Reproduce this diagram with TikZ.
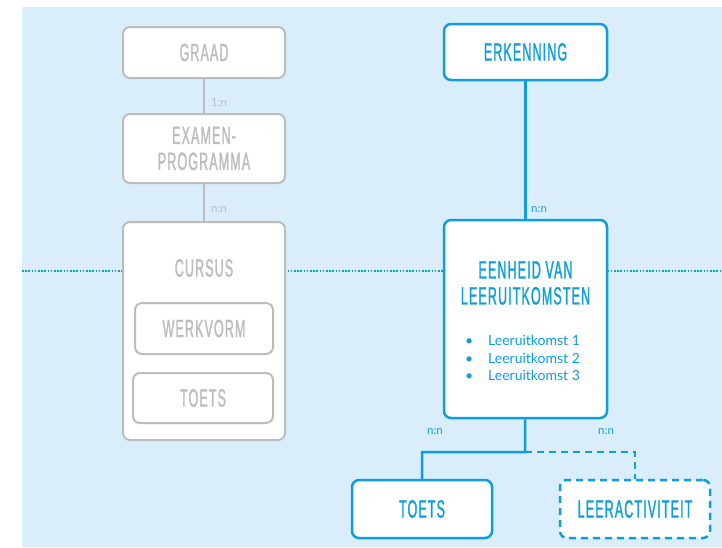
\documentclass[tikz,border=0pt]{standalone}
\usepackage{fontspec}
\newfontfamily\headfont[FakeStretch=0.5, LetterSpace=4.5, FakeBold=1]{Liberation Sans}
\newfontfamily\bodyfont{Lato}
\usetikzlibrary{shapes,calc,positioning}
\definecolor{lrblue}{RGB}{14,158,222}
\definecolor{lrgrey}{RGB}{188,188,188}
\definecolor{lrback}{RGB}{217,238,250}

\begin{document}
\begin{tikzpicture}[x=1pt,y=-1pt]
			\tikzstyle{box}=[rectangle, rounded corners=7pt, draw, fill=white, align=center, inner sep=0pt, font=\headfont\fontsize{25}{26}\selectfont]
			\tikzstyle{oldbox}=[box, draw=lrgrey, text=lrgrey, line width=2pt]
			\tikzstyle{newbox}=[box, draw=lrblue, text=lrblue, line width=2.5pt]
			\tikzstyle{card}=[font=\bodyfont\fontsize{11.5}{13}\selectfont, anchor=west, inner sep=0pt]
			\useasboundingbox (0,0) rectangle (722,547);
			\fill[lrback] (22,7) rectangle (722,547);
			% dotted border line
			\coordinate (lineW) at (22,271);
			\coordinate (lineE) at (722,271);
			\draw[lrblue, line width=1.6pt, dash pattern=on 1.6pt off 1.6pt] (lineW) -- (lineE);
			% old structure
			\node[oldbox, minimum width=162, minimum height=51] (graad) at (204,52.5) {GRAAD};
			\node[oldbox, minimum width=162, minimum height=69] (examen) at (204,148.5) {EXAMEN-\\PROGRAMMA};
			\node[oldbox, minimum width=162, minimum height=218] (cursus) at (204,331) {};
			\node[text=lrgrey, font=\headfont\fontsize{25}{26}\selectfont] (cursustitel) at (204,268) {CURSUS};
			\node[oldbox, minimum width=138, minimum height=51] (werkvorm) at (204,328.5) {WERKVORM};
			\node[oldbox, minimum width=140, minimum height=50] (oudtoets) at (203,398) {TOETS};
			\draw[lrgrey, line width=2pt] (graad) -- (examen);
			\draw[lrgrey, line width=2pt] (examen) -- (cursus);
			\node[card, text=lrgrey] at (211,102) {1:n};
			\node[card, text=lrgrey] at (211,210) {n:n};
			% new structure
			\node[newbox, minimum width=163, minimum height=56] (erkenning) at (525.5,52) {ERKENNING};
			\node[newbox, minimum width=163, minimum height=198] (eenheid) at (525.5,319) {};
			\node[text=lrblue, align=center, font=\headfont\fontsize{25}{26}\selectfont] (eenheidtitel) at (525.5,283) {EENHEID VAN\\LEERUITKOMSTEN};
			\node[card, text=lrblue, align=left, font=\bodyfont\fontsize{14}{17.5}\selectfont] (lijst) at (465,358)
				{\makebox[23pt][l]{\textbullet}Leeruitkomst 1\\\makebox[23pt][l]{\textbullet}Leeruitkomst 2\\\makebox[23pt][l]{\textbullet}Leeruitkomst 3};
			\node[newbox, minimum width=140, minimum height=58] (toets) at (422,509) {TOETS};
			\node[newbox, dashed, dash pattern=on 7pt off 5pt, minimum width=150, minimum height=58] (leeractiviteit) at (635,509) {LEERACTIVITEIT};
			\coordinate (split) at (525,452);
			\draw[lrblue, line width=2.5pt] (erkenning) -- (eenheid);
			\draw[lrblue, line width=2.5pt] (eenheid) -- (split) -| (toets);
			\draw[lrblue, line width=2.5pt, dash pattern=on 7pt off 5pt] (split) -| (leeractiviteit);
			\node[card, text=lrblue] at (531,210) {n:n};
			\node[card, text=lrblue] at (427,432) {n:n};
			\node[card, text=lrblue] at (598,432) {n:n};
		\end{tikzpicture}
\end{document}
